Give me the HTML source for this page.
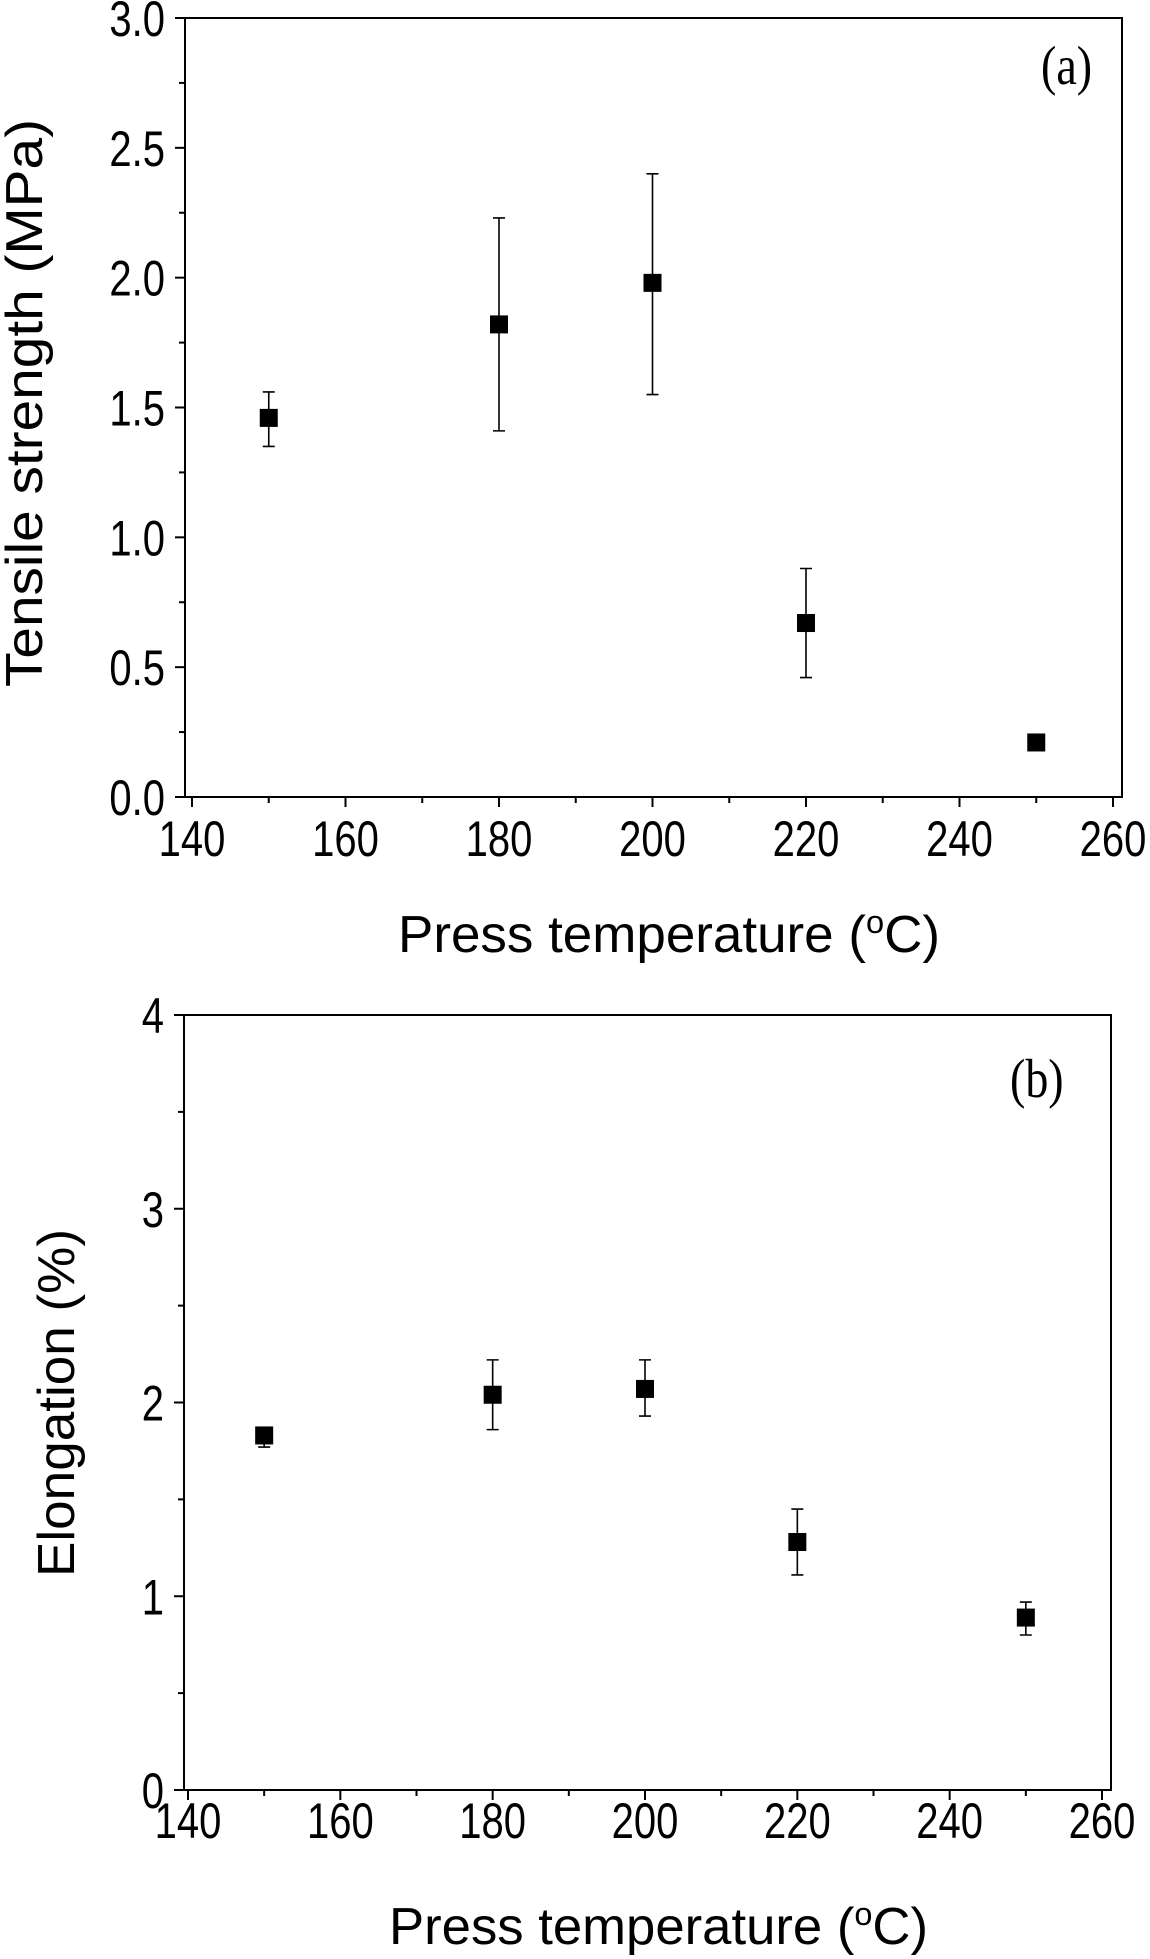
<!DOCTYPE html>
<html><head><meta charset="utf-8"><style>
html,body{margin:0;padding:0;background:#fff;}
svg{display:block;}
text{fill:#000;}
</style></head><body>
<svg id="fig" width="1150" height="1959" viewBox="0 0 1150 1959" xmlns="http://www.w3.org/2000/svg" font-family="Liberation Sans, Arial, sans-serif"></svg>
<script>
const temps = [150, 180, 200, 220, 250];
const tensileMean = [1.46, 1.82, 1.98, 0.67, 0.21];
const tensileLow = [1.35, 1.41, 1.55, 0.46, 0.21];
const tensileHigh = [1.56, 2.23, 2.40, 0.88, 0.21];
const elongMean = [1.83, 2.04, 2.07, 1.28, 0.89];
const elongLow = [1.77, 1.86, 1.93, 1.11, 0.80];
const elongHigh = [1.87, 2.22, 2.22, 1.45, 0.97];
const xTicks = [140, 160, 180, 200, 220, 240, 260];
const yTicksA = ["0.0", "0.5", "1.0", "1.5", "2.0", "2.5", "3.0"];
const yTicksB = ["0", "1", "2", "3", "4"];

const NS = "http://www.w3.org/2000/svg";
const svg = document.getElementById('fig');
function mk(tag, attrs, parent, txt){
  const e = document.createElementNS(NS, tag);
  for (const k in attrs) e.setAttribute(k, attrs[k]);
  if (txt !== undefined) e.textContent = txt;
  (parent || svg).appendChild(e);
  return e;
}

function panel(cfg){
  const g = mk('g', {});
  
  
  const X = v => cfg.x0 + (v - 140) / 120 * (cfg.x1 - cfg.x0);
  const Y = v => cfg.yb - v / cfg.ymax * (cfg.yb - cfg.yt);
  const frame = mk('rect', {x: cfg.L, y: cfg.yt, width: cfg.R - cfg.L, height: cfg.yb - cfg.yt, fill: 'none', stroke: '#000', 'stroke-width': 2}, g);
  
  
  for (let v = 140; v <= 260; v += 10) {
    const major = v % 20 === 0;
    const t = mk('line', {x1: X(v), x2: X(v), y1: cfg.yb, y2: cfg.yb + (major ? 10 : 6), stroke: '#000', 'stroke-width': 2}, g);
    
    
  }
  xTicks.forEach(v => {
    const t = mk('text', {x: 0, y: 0, 'font-size': 40, 'text-anchor': 'middle', transform: `translate(${X(v)},${cfg.xlabBase}) scale(1,1.25)`}, g, String(v));
    
    
  });
  const nMinor = cfg.ymax / cfg.minorStep;
  for (let i = 0; i <= nMinor; i++) {
    const v = i * cfg.minorStep;
    const major = i % 2 === 0;
    const t = mk('line', {x1: cfg.L - (major ? 10 : 6), x2: cfg.L, y1: Y(v), y2: Y(v), stroke: '#000', 'stroke-width': 2}, g);
    
    
  }
  cfg.yTicks.forEach(s => {
    const t = mk('text', {x: 0, y: 0, 'font-size': 40, 'text-anchor': 'end', transform: `translate(${cfg.L - 20},${Y(parseFloat(s)) + 18}) scale(1,1.25)`}, g, s);
    
    
  });
  const xt = mk('text', {x: cfg.xtX, y: cfg.xtBase, 'font-size': 52, textLength: cfg.xtLen, lengthAdjust: 'spacingAndGlyphs'}, g);
  
  
  xt.appendChild(document.createTextNode('Press temperature ('));
  mk('tspan', {dy: -19, 'font-size': 32}, xt, 'o');
  mk('tspan', {dy: 19}, xt, 'C)');
  const yt = mk('text', {x: 0, y: 0, 'font-size': 52, 'text-anchor': 'middle', textLength: cfg.ytLen, lengthAdjust: 'spacingAndGlyphs', transform: `translate(${cfg.ytX},${cfg.ytY}) rotate(-90)`}, g, cfg.ytitle);
  
  
  const pl = mk('text', {x: 0, y: 0, 'font-size': 46, 'font-family': 'Liberation Serif, serif', transform: `translate(${cfg.plX},${cfg.plY}) scale(1,1.2)`}, g, cfg.plabel);
  
  
  temps.forEach((tv, i) => {
    const cx = X(tv);
    const lo = Y(cfg.low[i]), hi = Y(cfg.high[i]);
    const eb = mk('path', {d: `M${cx},${lo}V${hi}M${cx-6},${lo}H${cx+6}M${cx-6},${hi}H${cx+6}`, stroke: '#000', 'stroke-width': 1.6, fill: 'none'}, g);
    
    
    const m = mk('rect', {x: cx - 9, y: Y(cfg.mean[i]) - 9, width: 18, height: 18, fill: '#000'}, g);
    
    
  });
}

panel({name: 'panel-a-tensile-strength', L: 185, R: 1122, yt: 18, yb: 797, x0: 192, x1: 1113, ymax: 3, minorStep: 0.25,
  yTicks: yTicksA, mean: tensileMean, low: tensileLow, high: tensileHigh,
  xlabBase: 856, xtX: 398, xtBase: 952, xtLen: 542, ytitle: 'Tensile strength (MPa)', ytX: 42, ytY: 403, ytLen: 568,
  plabel: '(a)', plX: 1041, plY: 84});
panel({name: 'panel-b-elongation', L: 184, R: 1111, yt: 1015, yb: 1790, x0: 188, x1: 1102, ymax: 4, minorStep: 0.5,
  yTicks: yTicksB, mean: elongMean, low: elongLow, high: elongHigh,
  xlabBase: 1838, xtX: 389, xtBase: 1944, xtLen: 539, ytitle: 'Elongation (%)', ytX: 74, ytY: 1403, ytLen: 348,
  plabel: '(b)', plX: 1010, plY: 1097});
</script>
</body></html>
